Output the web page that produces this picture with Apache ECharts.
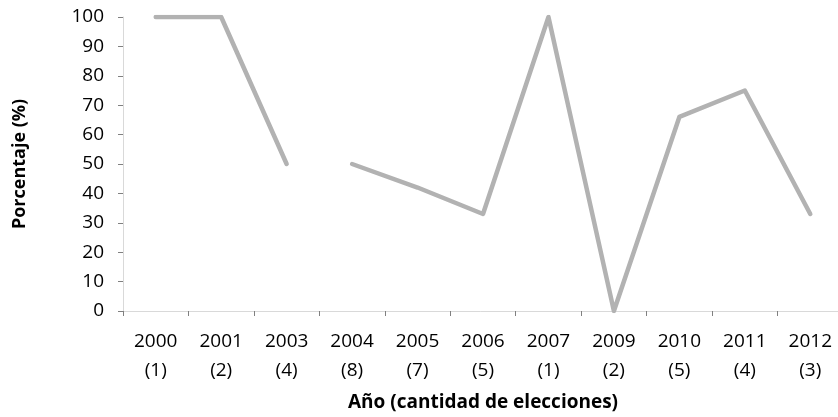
<!DOCTYPE html>
<html><head><meta charset="utf-8">
<script src="https://cdn.jsdelivr.net/npm/echarts@6/dist/echarts.min.js"></script>
<style>html,body{margin:0;padding:0;background:#fff;overflow:hidden}#c{width:838px;height:417px}</style>
</head><body><div id="c"></div>
<script>
const years = ['2000','2001','2003','2004','2005','2006','2007','2009','2010','2011','2012'];
const counts = ['(1)','(2)','(4)','(8)','(7)','(5)','(1)','(2)','(5)','(4)','(3)'];
const part1 = [100, 100, 50, null, null, null, null, null, null, null, null];
const part2 = [null, null, null, 50, 42, 33, 100, 0, 66, 75, 33];
const yTicks = [0,10,20,30,40,50,60,70,80,90,100];

const cats = years.map((y,i)=>y+'\n'+counts[i]);
const font = "'Open Sans', 'Liberation Sans', sans-serif";
const chart = echarts.init(document.getElementById('c'), null, {renderer:'canvas'});
const lineStyle = {color:'#b2b2b2', width:4.5, cap:'round', join:'round'};
chart.setOption({
  animation:false,
  grid:{left:123, right:-5, top:17, bottom:106, containLabel:false, outerBoundsMode:'none'},
  xAxis:{
    type:'category', data:cats, boundaryGap:true,
    axisLine:{lineStyle:{color:'#d9d9d9', width:1}},
    axisTick:{show:true, alignWithLabel:false, length:5, lineStyle:{color:'#808080'}},
    axisLabel:{color:'#000', fontFamily:font, fontSize:19, lineHeight:29, margin:16, interval:0},
    name:'Año (cantidad de elecciones)', nameLocation:'middle', nameGap:82,
    nameTextStyle:{color:'#000', fontFamily:font, fontSize:19, fontWeight:'bold'}
  },
  yAxis:{
    type:'value', min:0, max:100, interval:10,
    axisLine:{show:true, lineStyle:{color:'#d9d9d9', width:1}},
    axisTick:{show:true, length:5, lineStyle:{color:'#808080'}},
    splitLine:{show:false},
    axisLabel:{color:'#000', fontFamily:font, fontSize:19, margin:19,
      formatter:v=>yTicks.includes(v)?String(v):''},
    name:'Porcentaje (%)', nameLocation:'middle', nameGap:94, nameRotate:90,
    nameTextStyle:{color:'#000', fontFamily:font, fontSize:18, fontWeight:'bold'}
  },
  series:[
    {type:'line', data:part1, showSymbol:false, symbol:'none', connectNulls:false, lineStyle},
    {type:'line', data:part2, showSymbol:false, symbol:'none', connectNulls:false, lineStyle}
  ]
});
</script></body></html>
